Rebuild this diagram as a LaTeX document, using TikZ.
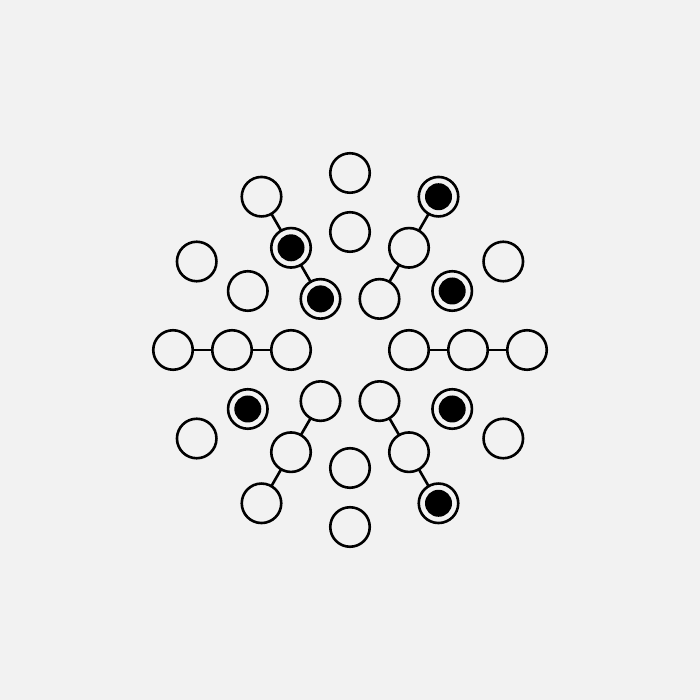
\documentclass[tikz,border=0pt]{standalone}
\usetikzlibrary{calc}
\begin{document}
\begin{tikzpicture}[x=1pt,y=1pt,
  ring/.style={circle,draw=black,line width=2.6pt,fill=bgc,minimum size=39.5pt,inner sep=0pt,outer sep=0pt},
  link/.style={draw=black,line width=2.6pt}]
\definecolor{bgc}{HTML}{F2F2F2}
\fill[bgc] (0,0) rectangle (700,700);
\useasboundingbox (0,0) rectangle (700,700);
\coordinate (O) at (350,350);
% connected spokes (3 circles)
\foreach \a in {0,60,120,180,240,300}{
  \foreach \k/\r in {1/59,2/118,3/177}{
    \node[ring] (c\a-\k) at ($(O)+(\a:\r)$) {};
  }
  \draw[link] (c\a-1) -- (c\a-2) (c\a-2) -- (c\a-3);
}
% free spokes (2 circles)
\foreach \a in {30,90,150,210,270,330}{
  \foreach \k/\r in {2/118,3/177}{
    \node[ring] (c\a-\k) at ($(O)+(\a:\r)$) {};
  }
}
% filled markers
\foreach \n in {c120-1,c120-2,c60-3,c30-2,c330-2,c210-2,c300-3}{
  \fill[black] (\n.center) circle (13.5pt);
}
\end{tikzpicture}
\end{document}
